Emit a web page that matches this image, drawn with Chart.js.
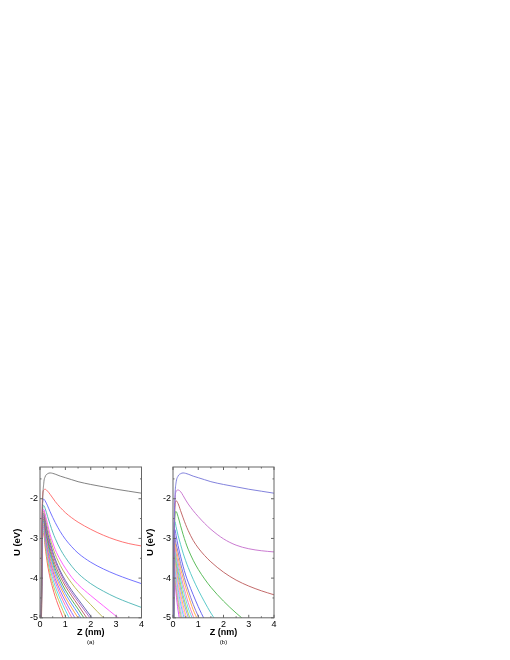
<!DOCTYPE html>
<html><head><meta charset="utf-8">
<script src="https://cdn.jsdelivr.net/npm/chart.js@4"></script>
<style>
html,body{margin:0;padding:0;background:#fff;}
body{width:510px;height:660px;position:relative;overflow:hidden;}
canvas{position:absolute;top:440px;}
</style></head><body>
<canvas id="ca" width="182" height="220" style="left:0px"></canvas>
<canvas id="cb" width="182" height="220" style="left:133px"></canvas>
<script>
// ---- data ----
const zA = [0.02,0.04,0.06,0.1,0.15,0.2,0.3,0.4,0.5,0.6,0.8,1.0,1.25,1.5,2,2.5,3,3.5,4];
const uA = [
  [-8,-6,-4,-2.2,-1.6,-1.45,-1.37,-1.35,-1.36,-1.38,-1.43,-1.47,-1.52,-1.57,-1.64,-1.70,-1.76,-1.81,-1.86],
  [-8,-6,-3.6,-1.95,-1.78,-1.76,-1.81,-1.89,-1.98,-2.07,-2.22,-2.35,-2.48,-2.59,-2.77,-2.92,-3.04,-3.13,-3.19],
  [-8,-6,-3.8,-2.1,-2.01,-2.05,-2.18,-2.33,-2.47,-2.6,-2.83,-3.02,-3.21,-3.37,-3.6,-3.77,-3.91,-4.03,-4.14],
  [-8,-6,-4,-2.3,-2.17,-2.24,-2.45,-2.65,-2.84,-3.0,-3.27,-3.48,-3.7,-3.88,-4.14,-4.33,-4.49,-4.62,-4.74],
  [-8,-6,-4.2,-2.4,-2.27,-2.38,-2.65,-2.9,-3.1,-3.28,-3.54,-3.75,-3.98,-4.16,-4.44,-4.7,-4.96,-5.2],
  [-8,-6,-4.3,-2.45,-2.32,-2.45,-2.75,-3.0,-3.22,-3.4,-3.68,-3.9,-4.13,-4.33,-4.67,-5.0,-5.3],
  [-8,-6,-4.4,-2.5,-2.37,-2.52,-2.85,-3.1,-3.33,-3.52,-3.82,-4.06,-4.31,-4.53,-4.96,-5.4],
  [-8,-6,-4.5,-2.55,-2.42,-2.6,-2.91,-3.17,-3.4,-3.58,-3.87,-4.12,-4.37,-4.59,-5.03],
  [-8,-6,-4.55,-2.6,-2.47,-2.65,-2.98,-3.25,-3.48,-3.67,-3.96,-4.2,-4.45,-4.68,-5.15],
  [-8,-6,-4.6,-2.65,-2.52,-2.72,-3.04,-3.33,-3.56,-3.76,-4.05,-4.3,-4.55,-4.78,-5.27],
  [-8,-6,-4.65,-2.7,-2.57,-2.77,-3.12,-3.41,-3.64,-3.84,-4.14,-4.39,-4.65,-4.89,-5.41],
  [-8,-6,-4.7,-2.75,-2.62,-2.83,-3.2,-3.5,-3.73,-3.92,-4.22,-4.48,-4.75,-5.0,-5.45],
  [-8,-6,-4.75,-2.8,-2.67,-2.9,-3.28,-3.58,-3.81,-4.01,-4.32,-4.58,-4.87,-5.13],
  [-8,-6,-4.8,-2.85,-2.72,-2.97,-3.36,-3.67,-3.91,-4.1,-4.42,-4.69,-4.99,-5.27],
  [-8,-6,-4.85,-2.9,-2.77,-3.04,-3.45,-3.77,-4.01,-4.21,-4.53,-4.81,-5.13],
  [-8,-6,-4.9,-2.95,-2.82,-3.1,-3.55,-3.88,-4.13,-4.33,-4.66,-4.96,-5.33],
  [-8,-6,-4.95,-3.0,-2.87,-3.19,-3.67,-4.0,-4.25,-4.47,-4.82,-5.15]
];
const zB = [0.005,0.015,0.03,0.05,0.08,0.12,0.2,0.3,0.4,0.5,0.6,0.8,1.0,1.25,1.5,2,2.5,3,3.5,4];
const uB = [
  [-8,-6,-4,-2.6,-1.9,-1.6,-1.43,-1.37,-1.35,-1.36,-1.38,-1.43,-1.47,-1.52,-1.57,-1.64,-1.70,-1.76,-1.81,-1.86],
  [-8,-6,-4.5,-2.8,-2.05,-1.82,-1.78,-1.82,-1.92,-2.03,-2.13,-2.3,-2.45,-2.62,-2.77,-3.01,-3.17,-3.26,-3.31,-3.34],
  [-8,-6,-4.7,-3.0,-2.2,-2.05,-2.12,-2.3,-2.48,-2.65,-2.8,-3.05,-3.24,-3.43,-3.59,-3.85,-4.05,-4.2,-4.32,-4.42],
  [-8,-6,-4.8,-3.2,-2.4,-2.32,-2.45,-2.68,-2.9,-3.1,-3.27,-3.55,-3.78,-4.02,-4.23,-4.58,-4.88,-5.15],
  [-8,-6.5,-4.9,-2.6,-2.58,-2.7,-2.92,-3.15,-3.37,-3.56,-3.73,-4.03,-4.3,-4.6,-4.88,-5.35],
  [-8,-6.5,-5.0,-2.8,-2.78,-2.92,-3.18,-3.45,-3.7,-3.92,-4.1,-4.42,-4.72,-5.05,-5.35],
  [-8,-6,-4.3,-2.9,-2.99,-3.13,-3.34,-3.63,-3.87,-4.1,-4.3,-4.66,-4.96,-5.27],
  [-8,-6,-4.4,-3.0,-3.1,-3.24,-3.48,-3.76,-4.0,-4.23,-4.43,-4.8,-5.08],
  [-8,-6,-4.5,-3.1,-3.21,-3.36,-3.61,-3.9,-4.16,-4.39,-4.61,-4.96,-5.25],
  [-8,-6,-4.55,-3.18,-3.3,-3.45,-3.73,-4.02,-4.29,-4.53,-4.75,-5.07],
  [-8,-6,-4.6,-3.26,-3.38,-3.56,-3.83,-4.15,-4.43,-4.67,-4.88,-5.23],
  [-8,-6,-4.65,-3.34,-3.47,-3.64,-3.94,-4.27,-4.54,-4.78,-4.98,-5.35],
  [-8,-6,-4.7,-3.42,-3.56,-3.74,-4.07,-4.4,-4.68,-4.92,-5.11],
  [-8,-6,-4.75,-3.5,-3.65,-3.83,-4.18,-4.51,-4.81,-5.02],
  [-8,-6,-4.8,-3.57,-3.74,-3.93,-4.27,-4.63,-4.91,-5.13],
  [-8,-6,-4.85,-3.64,-3.83,-4.03,-4.42,-4.78,-5.05],
  [-8,-6,-4.9,-3.7,-3.9,-4.13,-4.52,-4.88,-5.16],
  [-8,-6,-4.95,-3.76,-3.98,-4.23,-4.63,-5.0,-5.2],
  [-8,-6,-5.0,-3.82,-4.07,-4.37,-4.81,-5.2]
];
const xTicks = [0,1,2,3,4];
const yTicks = [-5,-4,-3,-2];
const xRange = [0,4];
const yRange = [-5,-1.2];
const panelLabels = ['(a)','(b)'];
const xTitle = 'Z (nm)';
const yTitle = 'U (eV)';

// ---- styles ----
const colorsA = ['#747474','#ff6464','#6464ff','#4ab4b4','#ff50ff','#b4b44a','#5a5aa8','#a85ac4',
  '#b45a5a','#4aa84a','#4a88ff','#ff9a3c','#8a5aff','#ff6aa8','#4ad4f0','#c4c44a','#ff5a5a'];
const colorsB = ['#7474d8','#c46ccc','#bc5a5a','#4ab44a','#4ac4c4','#5a5af0','#7a6ad4','#ffa83c',
  '#f078b4','#5ad4f0','#a4d44a','#8a8aff','#ffc44a','#ff88ff','#4ae0e0','#e0a8ff','#88e088','#ff8888','#d04aff'];
const F = "'Liberation Sans', Arial, sans-serif";

const frame = {
  id: 'frame',
  afterDraw(chart) {
    const {ctx, chartArea: a, scales: {x, y}} = chart;
    ctx.save();
    ctx.strokeStyle = '#666';
    ctx.lineWidth = 1;
    ctx.strokeRect(a.left, a.top, a.right - a.left, a.bottom - a.top);
    ctx.beginPath();
    for (let v = x.min; v <= x.max + 1e-9; v += 0.5) {
      const p = x.getPixelForValue(v);
      const L = Math.abs(v - Math.round(v)) < 1e-9 ? 3 : 1.5;
      ctx.moveTo(p, a.bottom); ctx.lineTo(p, a.bottom - L);
      ctx.moveTo(p, a.top); ctx.lineTo(p, a.top + L);
    }
    for (let v = y.min; v <= y.max + 1e-9; v += 0.5) {
      const p = y.getPixelForValue(v);
      const L = Math.abs(v - Math.round(v)) < 1e-9 ? 3 : 1.5;
      ctx.moveTo(a.left, p); ctx.lineTo(a.left + L, p);
      ctx.moveTo(a.right, p); ctx.lineTo(a.right - L, p);
    }
    ctx.stroke();
    ctx.restore();
  }
};

function makeChart(id, z, U, colors, label, rightPad) {
  return new Chart(document.getElementById(id), {
    type: 'line',
    data: {
      datasets: U.map((u, i) => ({
        data: u.map((v, j) => ({x: z[j], y: v})),
        borderColor: colors[i % colors.length],
        borderWidth: 0.9,
        pointRadius: 0,
        fill: false,
        cubicInterpolationMode: 'monotone'
      }))
    },
    options: {
      responsive: false,
      animation: false,
      events: [],
      layout: {padding: {top: 27, right: rightPad, left: 0, bottom: 14}},
      plugins: {
        legend: {display: false},
        tooltip: {enabled: false},
        subtitle: {display: true, text: label, position: 'bottom', fullSize: false, color: '#000',
          font: {family: F, size: 6}, padding: {top: 0, bottom: 0}}
      },
      scales: {
        x: {
          type: 'linear', min: xRange[0], max: xRange[1],
          afterBuildTicks: s => { s.ticks = xTicks.map(v => ({value: v})); },
          afterFit: s => { s.height = 21; },
          grid: {display: false, drawTicks: false},
          border: {display: false},
          ticks: {font: {family: F, size: 9}, color: '#000', padding: 1, maxRotation: 0, autoSkip: false},
          title: {display: true, text: xTitle, color: '#000',
            font: {family: F, size: 9, weight: 'bold'}, padding: {top: 1, bottom: 1}}
        },
        y: {
          type: 'linear', min: yRange[0], max: yRange[1],
          afterBuildTicks: s => { s.ticks = yTicks.map(v => ({value: v})); },
          afterFit: s => { s.width = 40; },
          grid: {display: false, drawTicks: false},
          border: {display: false},
          ticks: {font: {family: F, size: 9}, color: '#000', padding: 2, autoSkip: false},
          title: {display: true, text: yTitle, color: '#000',
            font: {family: F, size: 9.5, weight: 'bold'}, padding: {top: 12, bottom: 0}}
        }
      }
    },
    plugins: [frame]
  });
}

makeChart('ca', zA, uA, colorsA, panelLabels[0], 40.5);
makeChart('cb', zB, uB, colorsB, panelLabels[1], 41);
</script>
</body></html>
